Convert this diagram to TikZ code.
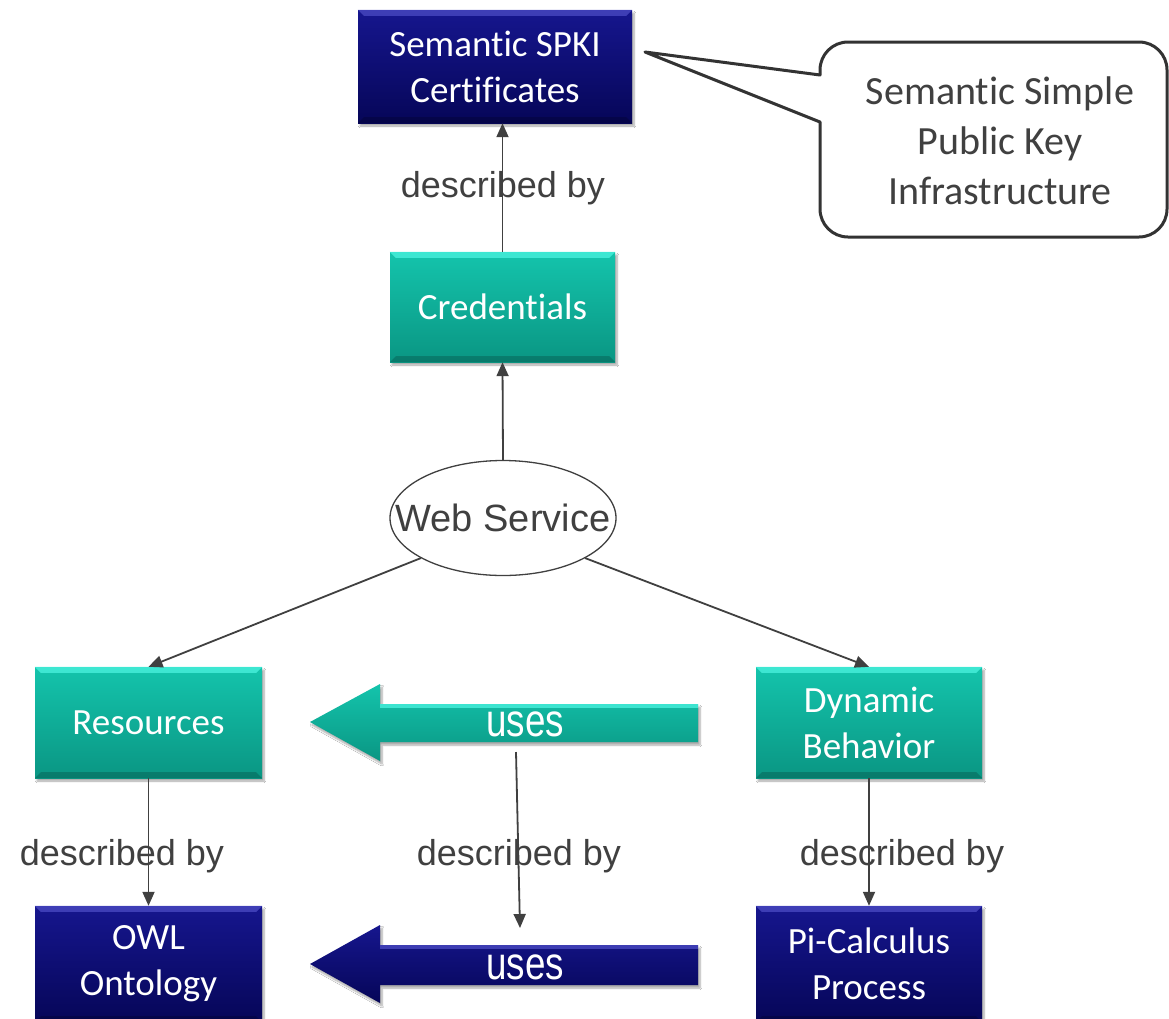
\documentclass[tikz,border=0pt]{standalone}
\usepackage{fontspec}
\setmainfont{Carlito}[Ligatures={NoCommon}]
\newfontfamily\arialf{Liberation Sans}
\newfontfamily\narrowf[FakeStretch=0.8]{Liberation Sans}
\usetikzlibrary{arrows.meta,shapes.geometric,shadows.blur,calc}

\definecolor{navyTop}{HTML}{16168E}
\definecolor{navyBot}{HTML}{060658}
\definecolor{navyHi}{HTML}{4848C0}
\definecolor{tealTop}{HTML}{14C4AC}
\definecolor{tealBot}{HTML}{0A9683}
\definecolor{tealHi}{HTML}{48F0DC}
\definecolor{ink}{HTML}{404040}

\tikzset{
  softshadow/.style={blur shadow={shadow xshift=2pt, shadow yshift=-3pt,
      shadow blur steps=6, shadow opacity=35}},
  box/.style={rectangle, inner sep=0pt, align=center, text=white,
      font=\fontsize{37}{46}\selectfont, softshadow},
  navybox/.style={box, top color=navyTop, bottom color=navyBot},
  tealbox/.style={box, top color=tealTop, bottom color=tealBot},
  link/.style={draw=ink, line width=1.8pt,
      -{Triangle[length=14pt,width=12pt]}},
  lbl/.style={font=\arialf\fontsize{36}{40}\selectfont, text=ink},
  usestext/.style={font=\narrowf\fontsize{46}{50}\selectfont, text=white},
  bigarrow/.style={softshadow},
}

\begin{document}
\begin{tikzpicture}[x=1pt,y=-1pt]
\useasboundingbox (0,0) rectangle (1169,1018);
\clip (0,0) rectangle (1169,1018);
\fill[white] (0,0) rectangle (1169,1018);

% boxes
\node[navybox, minimum width=274pt, minimum height=113pt] (spki) at (495,66.5)
  {Semantic SPKI\\Certificates};
\node[tealbox, minimum width=225pt, minimum height=110pt] (cred) at (502.5,307)
  {Credentials};
\node[ellipse, draw=ink, line width=1.3pt, fill=white, inner sep=0pt,
  minimum width=226pt, minimum height=115pt] (ws) at (503,518) {};
\node[font=\arialf\fontsize{38}{42}\selectfont, text=ink, inner sep=0pt]
  (wstext) at (ws.center) {Web Service};
\node[tealbox, minimum width=227pt, minimum height=111pt] (res) at (148.5,722.5)
  {Resources};
\node[tealbox, minimum width=226pt, minimum height=111pt] (dyn) at (869,722.5)
  {Dynamic\\Behavior};
\node[navybox, minimum width=227pt, minimum height=116pt] (owl) at (148.5,964)
  {OWL\\Ontology};
\node[navybox, minimum width=226pt, minimum height=116pt] (pi) at (869,964)
  {Pi-Calculus\\Process};

% bevel highlights along the upper edges
\foreach \b/\c in {spki/navyHi, owl/navyHi, pi/navyHi, cred/tealHi, res/tealHi, dyn/tealHi}{
  \fill[\c, opacity=0.8] (\b.north west) -- (\b.north east)
     -- ($(\b.north east)+(-6,6)$) -- ($(\b.north west)+(6,6)$) -- cycle;
  \fill[black, opacity=0.18] (\b.south west) -- (\b.south east)
     -- ($(\b.south east)+(-6,-6)$) -- ($(\b.south west)+(6,-6)$) -- cycle;
}

% wide "uses" arrows
\path[bigarrow, top color=tealTop, bottom color=tealBot]
  (310,722) -- (380,684) -- (380,704) -- (698,704) -- (698,742)
  -- (380,742) -- (380,761) -- cycle;
\fill[tealHi, opacity=0.8] (380,704) -- (698,704) -- (698,708) -- (380,708) -- cycle;
\node[usestext] (usesT) at (525,724) {uses};

\path[bigarrow, top color=navyTop, bottom color=navyBot]
  (310,964) -- (380,925) -- (380,945) -- (698,945) -- (698,985)
  -- (380,985) -- (380,1003) -- cycle;
\fill[navyHi, opacity=0.8] (380,945) -- (698,945) -- (698,949) -- (380,949) -- cycle;
\node[usestext] (usesN) at (525,967) {uses};

% connectors
\draw[link] (cred.north) -- (cred.north |- spki.south);
\draw[link] (ws.north) -- (cred.south);
\draw[link] (ws.206) -- (res.north);
\draw[link] (ws.334) -- (dyn.north);
\draw[link] (res.south) -- (owl.north);
\draw[link] (dyn.south) -- (pi.north);
\coordinate (usesTfoot) at (516,752);
\coordinate (usesNtop) at (520,928);
\draw[link] (usesTfoot) -- (usesNtop);

% edge labels
\node[lbl] (d1) at (503,188) {described by};
\node[lbl] (d2) at (122,856) {described by};
\node[lbl] (d3) at (519,856) {described by};
\node[lbl] (d4) at (902,856) {described by};

% speech-bubble note
\draw[draw=black!80, line width=3pt, fill=white, line join=round]
  (645,52) -- (820,75) -- (820,70) [rounded corners=28pt] -- (820,42)
  -- (1167,42) -- (1167,237) -- (820,237) [sharp corners] -- (820,122) -- cycle;
\node[align=center, text=ink, font=\fontsize{40}{50}\selectfont] (note) at (1000,141)
  {Semantic Simple\\Public Key\\Infrastructure};
\end{tikzpicture}
\end{document}
